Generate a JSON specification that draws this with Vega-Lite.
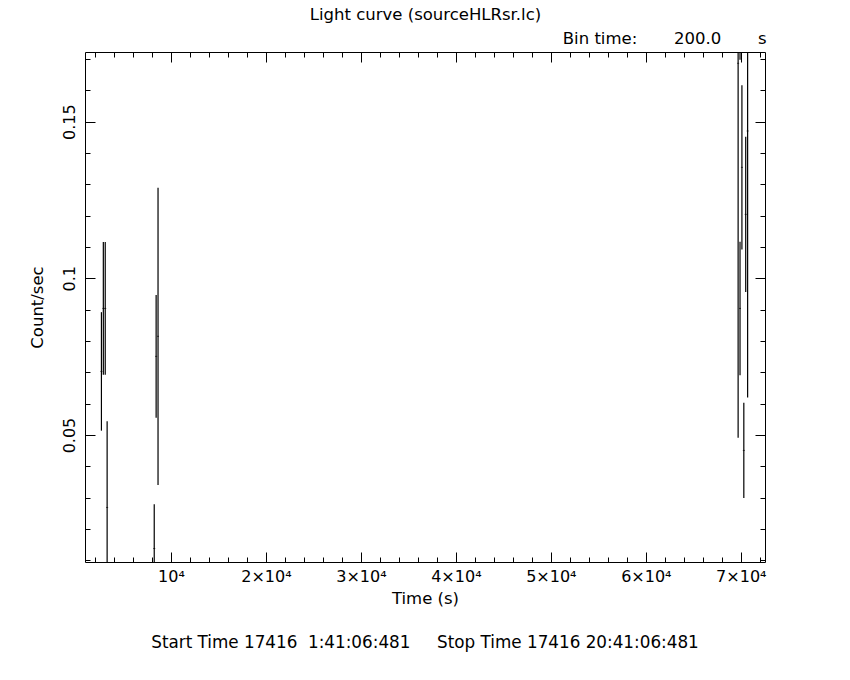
{
  "$schema": "https://vega.github.io/schema/vega-lite/v6.json",
  "autosize": "none",
  "width": 680,
  "height": 510,
  "padding": {"left": 85, "top": 52, "right": 85, "bottom": 118},
  "background": "white",
  "config": {
    "view": {"stroke": "black", "strokeWidth": 1},
    "font": "DejaVu Sans",
    "axis": {
      "grid": false,
      "domain": false,
      "tickColor": "black",
      "tickWidth": 1,
      "labelColor": "black",
      "labelFontSize": 16,
      "labelFont": "DejaVu Sans",
      "titleColor": "black",
      "titleFontSize": 16.5,
      "titleFontWeight": "normal",
      "titleFont": "DejaVu Sans"
    }
  },
  "title": {
    "text": "Start Time 17416\u00a0\u00a01:41:06:481\u00a0\u00a0\u00a0\u00a0\u00a0Stop Time 17416 20:41:06:481",
    "orient": "bottom",
    "anchor": "middle",
    "fontSize": 16.8,
    "fontWeight": "normal",
    "font": "DejaVu Sans",
    "color": "black",
    "offset": 28
  },
  "data": {
    "values": [
      {"t": 2680, "rate": 0.0703, "lo": 0.0514, "hi": 0.0892},
      {"t": 2880, "rate": 0.0904, "lo": 0.0692, "hi": 0.1116},
      {"t": 3080, "rate": 0.0904, "lo": 0.0692, "hi": 0.1116},
      {"t": 3280, "rate": 0.0269, "lo": -0.0006, "hi": 0.0544},
      {"t": 8240, "rate": 0.0138, "lo": -0.0003, "hi": 0.0279},
      {"t": 8440, "rate": 0.0751, "lo": 0.0555, "hi": 0.0947},
      {"t": 8640, "rate": 0.0815, "lo": 0.0341, "hi": 0.1289},
      {"t": 69720, "rate": 0.1686, "lo": 0.0491, "hi": 0.2881},
      {"t": 69920, "rate": 0.0904, "lo": 0.0691, "hi": 0.1117},
      {"t": 69920, "rate": 0.19, "lo": 0.1697, "hi": 0.2103},
      {"t": 70120, "rate": 0.1354, "lo": 0.1092, "hi": 0.1616},
      {"t": 70320, "rate": 0.0451, "lo": 0.0299, "hi": 0.0603},
      {"t": 70520, "rate": 0.1204, "lo": 0.0956, "hi": 0.1452},
      {"t": 70720, "rate": 0.147, "lo": 0.062, "hi": 0.232}
    ]
  },
  "resolve": {"axis": {"x": "independent", "y": "independent"}},
  "layer": [
    {
      "mark": {"type": "rule", "clip": true, "color": "black", "strokeWidth": 1.2},
      "encoding": {
        "x": {
          "field": "t", "type": "quantitative",
          "scale": {"domain": [950, 72550], "nice": false, "zero": false},
          "axis": {
            "orient": "bottom",
            "title": "Time (s)",
            "titlePadding": 1,
            "values": [2000,4000,6000,8000,10000,12000,14000,16000,18000,20000,22000,24000,26000,28000,30000,32000,34000,36000,38000,40000,42000,44000,46000,48000,50000,52000,54000,56000,58000,60000,62000,64000,66000,68000,70000,72000],
            "labelExpr": "datum.value % 10000 === 0 ? (datum.value === 10000 ? '10\u2074' : (datum.value / 10000) + '\u00d710\u2074') : ''",
            "tickSize": {"condition": {"test": "datum.value % 10000 === 0", "value": -10}, "value": -5},
            "labelPadding": 16,
            "labelFlush": false,
            "labelOverlap": false
          }
        },
        "y": {
          "field": "lo", "type": "quantitative",
          "scale": {"domain": [0.0095, 0.1722], "nice": false, "zero": false},
          "axis": {
            "orient": "left",
            "title": "Count/sec",
            "titlePadding": 11,
            "values": [0.01,0.02,0.03,0.04,0.05,0.06,0.07,0.08,0.09,0.1,0.11,0.12,0.13,0.14,0.15,0.16,0.17],
            "labelExpr": "abs(datum.value / 0.05 - round(datum.value / 0.05)) < 0.001 ? format(datum.value, '.2~f') : ''",
            "tickSize": {"condition": {"test": "abs(datum.value / 0.05 - round(datum.value / 0.05)) < 0.001", "value": -10}, "value": -5},
            "labelAngle": -90,
            "labelAlign": "center",
            "labelBaseline": "bottom",
            "labelPadding": 18,
            "labelFlush": false,
            "labelOverlap": false
          }
        },
        "y2": {"field": "hi"}
      }
    },
    {
      "mark": {"type": "tick", "orient": "horizontal", "clip": true, "color": "black", "size": 2, "thickness": 1},
      "encoding": {
        "x": {
          "field": "t", "type": "quantitative",
          "scale": {"domain": [950, 72550], "nice": false, "zero": false},
          "axis": {
            "orient": "top",
            "title": "Light curve (sourceHLRsr.lc)",
            "titleY": -33,
            "titleBaseline": "alphabetic",
            "values": [2000,4000,6000,8000,10000,12000,14000,16000,18000,20000,22000,24000,26000,28000,30000,32000,34000,36000,38000,40000,42000,44000,46000,48000,50000,52000,54000,56000,58000,60000,62000,64000,66000,68000,70000,72000],
            "labels": false,
            "tickSize": {"condition": {"test": "datum.value % 10000 === 0", "value": -10}, "value": -5}
          }
        },
        "y": {
          "field": "rate", "type": "quantitative",
          "scale": {"domain": [0.0095, 0.1722], "nice": false, "zero": false},
          "axis": {
            "orient": "right",
            "title": "Bin time:\u00a0\u00a0\u00a0\u00a0\u00a0\u00a0\u00a0200.0\u00a0\u00a0\u00a0\u00a0\u00a0\u00a0\u00a0s",
            "titleAngle": 0,
            "titleX": 1,
            "titleY": -9,
            "titleAlign": "right",
            "titleBaseline": "alphabetic",
            "values": [0.01,0.02,0.03,0.04,0.05,0.06,0.07,0.08,0.09,0.1,0.11,0.12,0.13,0.14,0.15,0.16,0.17],
            "labels": false,
            "tickSize": {"condition": {"test": "abs(datum.value / 0.05 - round(datum.value / 0.05)) < 0.001", "value": -10}, "value": -5}
          }
        }
      }
    }
  ]
}
